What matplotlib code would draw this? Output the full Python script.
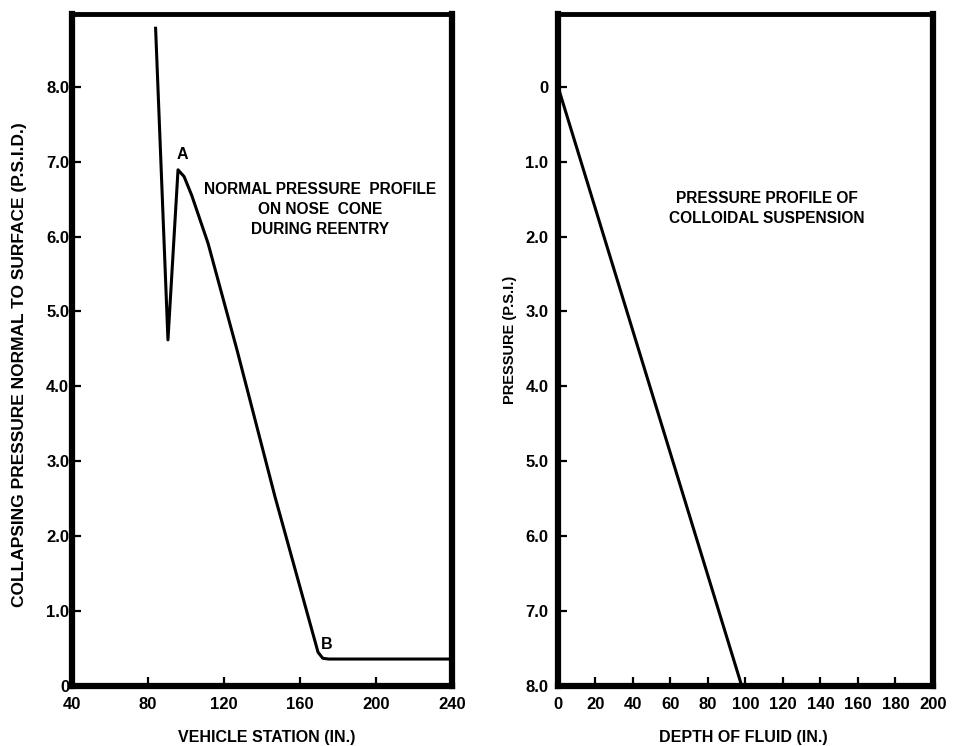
import matplotlib
matplotlib.use("Agg")
import matplotlib.pyplot as plt

plt.rcParams["font.family"] = ["Liberation Sans", "DejaVu Sans"]
plt.rcParams["font.weight"] = "bold"
plt.rcParams["axes.labelweight"] = "bold"

# left panel: pressure on nose cone
station = [84, 90.5, 95.8, 99, 103, 111.6, 126.8, 146.8, 169.5, 172, 175, 240]
p_nose = [8.78, 4.62, 6.89, 6.8, 6.55, 5.91, 4.49, 2.53, 0.45, 0.37, 0.36, 0.36]

# right panel: colloidal suspension
depth = [0, 98]
p_fluid = [0.0, 8.0]

left_xticks = [40, 80, 120, 160, 200, 240]
left_yticks = [0, 1, 2, 3, 4, 5, 6, 7, 8]
left_ylabels = ["0", "1.0", "2.0", "3.0", "4.0", "5.0", "6.0", "7.0", "8.0"]
right_xticks = list(range(0, 201, 20))
right_yticks = [0, 1, 2, 3, 4, 5, 6, 7, 8]
right_ylabels = ["0", "1.0", "2.0", "3.0", "4.0", "5.0", "6.0", "7.0", "8.0"]

W, H = 954, 746
fig = plt.figure(figsize=(W / 100, H / 100), dpi=100)
ax1 = fig.add_axes([72 / W, 60 / H, 380 / W, 672 / H])
ax2 = fig.add_axes([558 / W, 60 / H, 375 / W, 672 / H])

for ax in (ax1, ax2):
    for s in ax.spines.values():
        s.set_linewidth(4.5)
    ax.spines["top"].set_linewidth(3.5)
    ax.tick_params(direction="in", length=6.5, width=1.6, labelsize=12)

# left
ax1.plot(station, p_nose, "-k", lw=2.2, solid_joinstyle="round")
ax1.set_xlim(40, 240)
ax1.set_ylim(0, 8.97)
ax1.set_xticks(left_xticks)
ax1.set_yticks(left_yticks, left_ylabels)
ax1.tick_params(axis="x", pad=8)
ax1.tick_params(axis="y", pad=2)
ax1.set_xlabel("VEHICLE STATION (IN.)", fontsize=11.5, va="center")
ax1.xaxis.set_label_coords(0.513, -0.077)
ax1.set_ylabel("COLLAPSING PRESSURE NORMAL TO SURFACE (P.S.I.D.)",
               fontsize=12.5, va="center")
ax1.yaxis.set_label_coords(-0.137, 0.478)
ax1.text(97.9, 7.1, "A", fontsize=11.5, ha="center", va="center")
ax1.text(174, 0.55, "B", fontsize=11.5, ha="center", va="center")
ax1.text(170.5, 6.36, "NORMAL PRESSURE  PROFILE\nON NOSE  CONE\nDURING REENTRY",
         fontsize=11.2, ha="center", va="center", linespacing=1.45)

# right
ax2.plot(depth, p_fluid, "-k", lw=2.2)
ax2.set_xlim(0, 200)
ax2.set_ylim(8.0, -0.97)
ax2.set_xticks(right_xticks)
ax2.set_yticks(right_yticks, right_ylabels)
ax2.tick_params(axis="x", pad=8)
ax2.tick_params(axis="y", pad=7)
ax2.set_xlabel("DEPTH OF FLUID (IN.)", fontsize=11.5, va="center")
ax2.xaxis.set_label_coords(0.493, -0.077)
ax2.set_ylabel("PRESSURE (P.S.I.)", fontsize=10.5, va="center")
ax2.yaxis.set_label_coords(-0.128, 0.515)
ax2.text(111.5, 1.63, "PRESSURE PROFILE OF\nCOLLOIDAL SUSPENSION",
         fontsize=11.2, ha="center", va="center", linespacing=1.45)

fig.savefig("out.png", dpi=100)
